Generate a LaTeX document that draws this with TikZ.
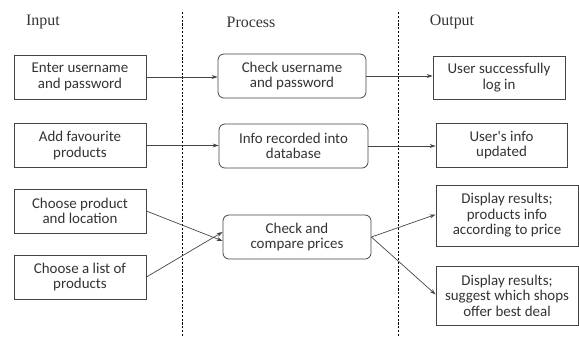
\documentclass[tikz,border=0pt]{standalone}
\usepackage{fontspec}
\setmainfont{Liberation Serif}
\newfontfamily\boxfont{Carlito}
\usetikzlibrary{arrows.meta}
\definecolor{txt}{HTML}{333333}
\definecolor{ln}{HTML}{444444}
\begin{document}
\begin{tikzpicture}[x=1bp,y=-1bp,
  box/.style={draw=ln,line width=0.8pt,align=center,text=txt,font=\boxfont\fontsize{15}{15.5}\selectfont,inner sep=0pt},
  rbox/.style={box,rounded corners=6pt},
  head/.style={text=txt,font=\fontsize{16}{18}\selectfont},
  conn/.style={draw=ln,line width=0.7pt,-{Stealth[length=6pt,width=4pt]}},
  sep/.style={draw=black,line width=0.9pt,dash pattern=on 2.2pt off 1.6pt}]
\useasboundingbox (0,0) rectangle (579,336);
\node[head] (hin) at (43,22) {Input};
\node[head] (hpr) at (251,22) {Process};
\node[head] (hout) at (452,22) {Output};
\coordinate (s1a) at (182,12); \coordinate (s1b) at (182,336);
\coordinate (s2a) at (398,12); \coordinate (s2b) at (398,336);
\draw[sep] (s1a) -- (s1b);
\draw[sep] (s2a) -- (s2b);
% input
\node[box,minimum width=132bp,minimum height=44bp] (i1) at (80,77) {Enter username\\and password};
\node[box,minimum width=132bp,minimum height=44bp] (i2) at (80,145.5) {Add favourite\\products};
\node[box,minimum width=132bp,minimum height=44bp] (i3) at (80,211) {Choose product\\and location};
\node[box,minimum width=132bp,minimum height=44bp] (i4) at (80,277) {Choose a list of\\products};
% process
\node[rbox,minimum width=148bp,minimum height=44bp] (p1) at (292,76) {Check username\\and password};
\node[rbox,minimum width=149bp,minimum height=44bp] (p2) at (293.5,146) {Info recorded into\\database};
\node[rbox,minimum width=148bp,minimum height=44bp] (p3) at (297,237) {Check and\\compare prices};
% output
\node[box,minimum width=132bp,minimum height=43bp] (o1) at (499,77.5) {User successfully\\log in};
\node[box,minimum width=131bp,minimum height=44bp] (o2) at (501.5,145) {User's info\\updated};
\node[box,minimum width=142bp,minimum height=61bp] (o3) at (507,215.5) {Display results;\\products info\\according to price};
\node[box,minimum width=142bp,minimum height=59bp] (o4) at (507,295.5) {Display results;\\suggest which shops\\offer best deal};
% connectors
\draw[conn] (i1.east) -- (p1.west |- i1.east);
\draw[conn] (i2.east) -- (p2.west |- i2.east);
\draw[conn] (i3.east) -- ([yshift=-4bp]p3.west);
\draw[conn] (i4.east) -- ([yshift=5bp]p3.west);
\draw[conn] (p1.east) -- (o1.west |- p1.east);
\draw[conn] (p2.east) -- (o2.west |- p2.east);
\draw[conn] (p3.east) -- ([yshift=1bp]o3.west);
\draw[conn] (p3.east) -- ([yshift=1bp]o4.west);
\end{tikzpicture}
\end{document}
